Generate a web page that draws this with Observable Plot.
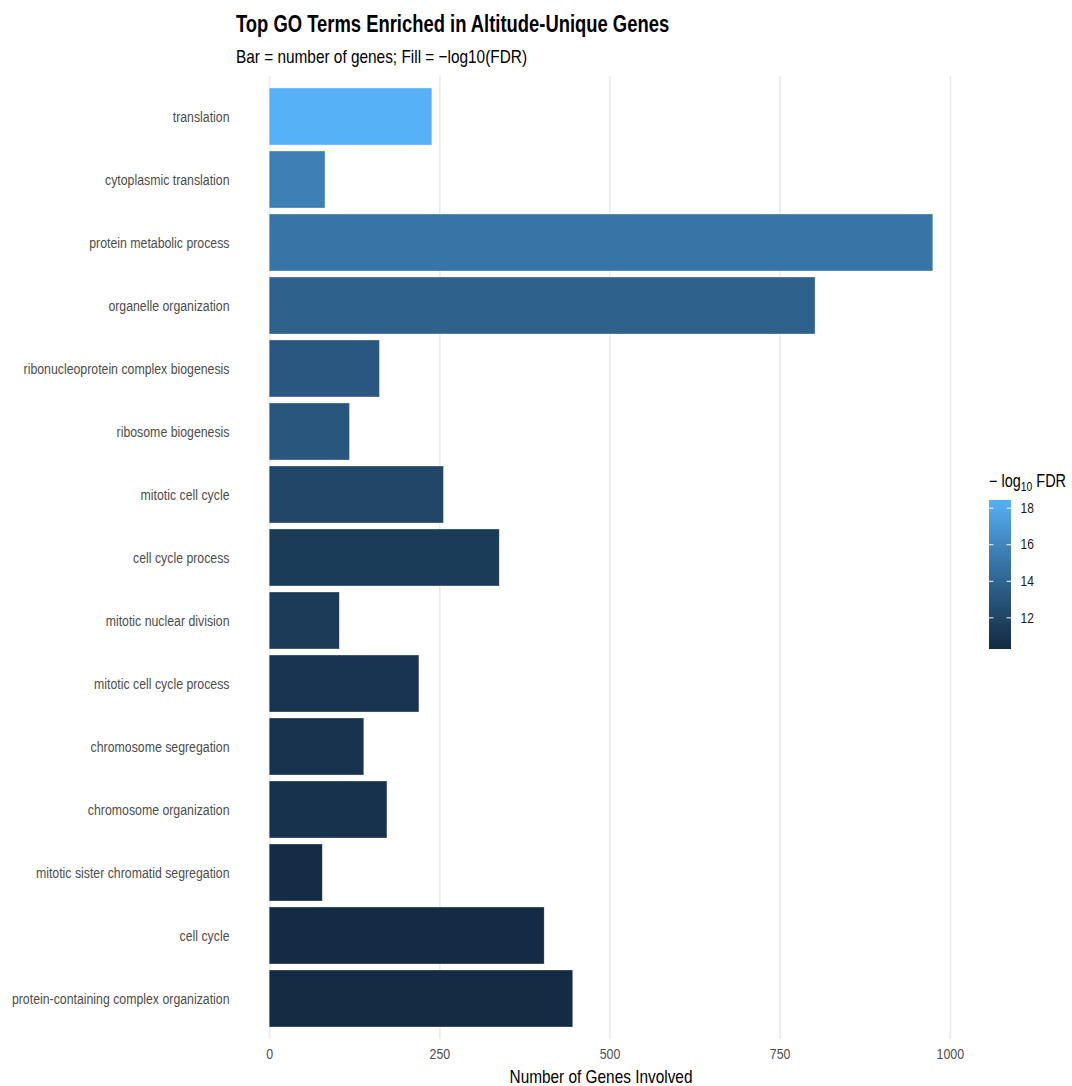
<!DOCTYPE html>
<html>
<head>
<meta charset="utf-8">
<script src="https://cdn.jsdelivr.net/npm/d3@7"></script>
<script src="https://cdn.jsdelivr.net/npm/@observablehq/plot@0.6"></script>
<style>
  html, body { margin: 0; padding: 0; background: #fff; }
  #wrap { position: relative; width: 1072px; height: 1086px; overflow: hidden;
          font-family: "Liberation Sans", Arial, sans-serif; }
  .hx { position: absolute; white-space: nowrap; line-height: 1; color: #000; }
  #title { left: 236px; top: 12.5px; font-size: 23px; font-weight: bold; transform: scaleX(0.8); transform-origin: 0 0; }
  #subtitle { left: 236px; top: 47.5px; font-size: 18.6px; transform: scaleX(0.827); transform-origin: 0 0; }
  #chart { position: absolute; left: 0; top: 70px; }
  #xlabel { left: 236px; width: 730px; top: 1068px; text-align: center; font-size: 18.6px; transform: scaleX(0.827); transform-origin: 50% 0; }
  #legtitle { left: 989px; top: 473px; font-size: 17.5px; transform: scaleX(0.827); transform-origin: 0 0; }
  #legtitle .sub { font-size: 12.5px; vertical-align: baseline; position: relative; top: 4px; }
  #legend { position: absolute; left: 985px; top: 490px; }
</style>
</head>
<body>
<div id="wrap">
  <div id="title" class="hx">Top GO Terms Enriched in Altitude-Unique Genes</div>
  <div id="subtitle" class="hx">Bar = number of genes; Fill = −log10(FDR)</div>
  <div id="chart"></div>
  <div id="xlabel" class="hx">Number of Genes Involved</div>
  <div id="legtitle" class="hx">− log<span class="sub">10</span> FDR</div>
  <div id="legend"></div>
</div>
<script>
// ---- data ----
const terms = [
  "translation",
  "cytoplasmic translation",
  "protein metabolic process",
  "organelle organization",
  "ribonucleoprotein complex biogenesis",
  "ribosome biogenesis",
  "mitotic cell cycle",
  "cell cycle process",
  "mitotic nuclear division",
  "mitotic cell cycle process",
  "chromosome segregation",
  "chromosome organization",
  "mitotic sister chromatid segregation",
  "cell cycle",
  "protein-containing complex organization"
];
const geneCounts = [239, 82, 975, 802, 162, 118, 256, 338, 103, 220, 139, 173, 78, 404, 446];
const negLog10FDR = [18.42, 15.65, 14.96, 13.8, 13.2, 13.1, 12.1, 11.4, 11.35, 10.92, 10.82, 10.76, 10.35, 10.3, 10.27];
const xTicks = [0, 250, 500, 750, 1000];
const legendTicks = [12, 14, 16, 18];

// ---- build ----
const data = terms.map((t, i) => ({term: t, count: geneCounts[i], score: negLog10FDR[i]}));
const xmax = d3.max(geneCounts);
const cmin = d3.min(negLog10FDR), cmax = d3.max(negLog10FDR);
const colorOpts = {type: "linear", domain: [cmin, cmax], range: ["#132B43", "#56B1F7"], interpolate: "lab"};
const FONT = '"Liberation Sans", Arial, sans-serif';
const CONDENSE = 0.827;

function condense(svg, s) {
  svg.querySelectorAll("text").forEach(t => {
    const x = +(t.getAttribute("x") || 0);
    const tr = t.getAttribute("transform") || "";
    t.setAttribute("transform", `${tr} translate(${x},0) scale(${s},1) translate(${-x},0)`);
  });
}

const chart = Plot.plot({
  width: 1072,
  height: 1016,
  marginTop: 6,
  marginBottom: 47,
  marginLeft: 236,
  marginRight: 106,
  style: {fontFamily: FONT, background: "transparent"},
  x: {domain: [-0.05 * xmax, 1.05 * xmax]},
  y: {domain: terms, paddingInner: 0.1, paddingOuter: 0.15},
  color: colorOpts,
  marks: [
    Plot.gridX(xTicks, {stroke: "#ebebeb", strokeOpacity: 1, strokeWidth: 1.6}),
    Plot.barX(data, {x: "count", y: "term", fill: "score", stroke: "white", strokeWidth: 0.6, strokeOpacity: 0.55}),
    Plot.axisX(xTicks, {tickSize: 0, tickPadding: 9, fontSize: 15, fill: "#4d4d4d", label: null, tickFormat: d3.format("d")}),
    Plot.axisY({tickSize: 0, tickPadding: 7, fontSize: 14.9, fill: "#4d4d4d", label: null})
  ]
});
condense(chart, CONDENSE);
document.getElementById("chart").append(chart);

// ---- colorbar legend ----
const nSteps = 120;
const stepSize = (cmax - cmin) / nSteps;
const steps = d3.range(nSteps).map(i => cmin + i * stepSize);
const legend = Plot.plot({
  width: 80,
  height: 169,
  marginTop: 10,
  marginBottom: 10,
  marginLeft: 4,
  marginRight: 54,
  style: {fontFamily: FONT, background: "transparent"},
  x: {domain: [0, 1], axis: null},
  y: {domain: [cmin, cmax]},
  color: colorOpts,
  marks: [
    Plot.rect(steps, {x1: 0, x2: 1, y1: d => d, y2: d => d + stepSize * 1.05, fill: d => d + stepSize / 2, shapeRendering: "crispEdges"}),
    Plot.ruleY(legendTicks, {x1: 0, x2: 0.2, stroke: "white", strokeWidth: 1}),
    Plot.ruleY(legendTicks, {x1: 0.8, x2: 1, stroke: "white", strokeWidth: 1}),
    Plot.axisY(legendTicks, {anchor: "right", tickSize: 0, tickPadding: 9, fontSize: 14.5, fill: "#1a1a1a", label: null})
  ]
});
condense(legend, CONDENSE);
document.getElementById("legend").append(legend);
</script>
</body>
</html>
